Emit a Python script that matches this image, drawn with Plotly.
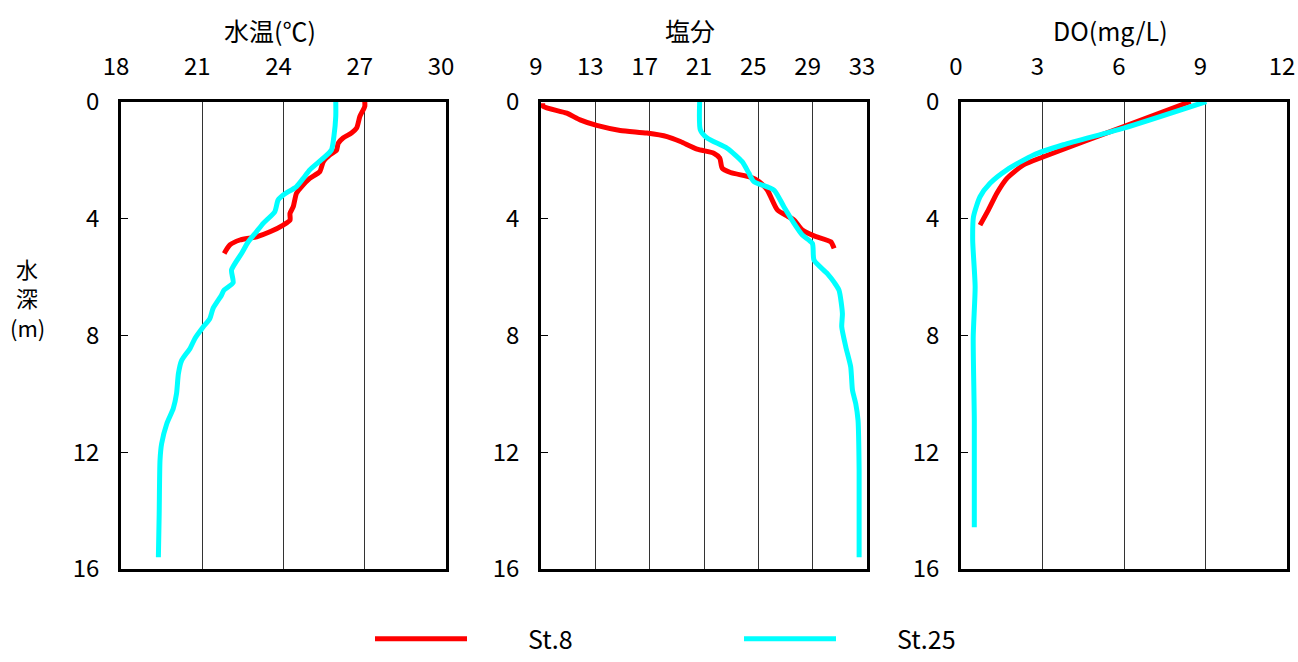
import plotly.graph_objects as go

# ---------------- data ----------------
# Water temperature (°C)
temp_depth_st8 = [0.0, 0.17, 0.51, 0.91, 1.08, 1.25, 1.43, 1.66, 1.83, 2.06, 2.4, 2.63, 2.91,
                  3.14, 3.6, 3.83, 4.06, 4.23, 4.46, 4.63, 4.74, 4.91, 5.2]
temp_st8 = [27.0, 27.0, 26.82, 26.7, 26.51, 26.2, 26.02, 25.96, 25.71, 25.47, 25.34, 24.97, 24.67,
            24.48, 24.36, 24.24, 24.24, 23.99, 23.5, 23.01, 22.39, 22.02, 21.81]
temp_depth_st25 = [0.0, 0.51, 1.2, 1.66, 1.94, 2.34, 2.63, 2.91, 3.2, 3.37, 3.77, 4.17, 4.46, 4.8,
                   5.2, 5.77, 6.2, 6.46, 6.63, 7.08, 7.43, 7.71, 8.11, 8.45, 8.86, 9.31, 10.0,
                   10.51, 11.03, 11.71, 12.28, 14.11, 15.6]
temp_st25 = [25.93, 25.93, 25.86, 25.77, 25.47, 24.97, 24.73, 24.48, 23.99, 23.8, 23.68, 23.25,
             23.0, 22.7, 22.45, 22.08, 22.14, 21.8, 21.71, 21.4, 21.28, 21.04, 20.73, 20.55,
             20.24, 20.12, 20.05, 19.93, 19.69, 19.5, 19.44, 19.41, 19.38]

# Salinity
sal_depth_st8 = [0.06, 0.17, 0.4, 0.63, 0.82, 0.99, 1.08, 1.2, 1.37, 1.63, 1.77, 1.94, 2.28, 2.43,
                 2.59, 2.74, 3.03, 3.71, 3.92, 4.06, 4.4, 4.6, 4.8, 5.03]
sal_st8 = [9.12, 9.17, 10.9, 11.88, 13.1, 14.83, 16.8, 18.28, 19.26, 20.49, 21.72, 22.16, 22.34,
           22.95, 24.43, 25.04, 25.66, 26.4, 27.14, 27.63, 28.24, 29.1, 30.33, 30.58]
sal_depth_st25 = [0.0, 0.97, 1.25, 1.6, 2.06, 2.45, 2.74, 3.03, 3.6, 4.17, 4.57, 4.86, 5.43, 5.89,
                  6.2, 6.46, 7.26, 7.71, 8.4, 9.08, 9.88, 10.34, 10.91, 12.63, 15.6]
sal_st25 = [20.68, 20.73, 21.23, 22.7, 23.81, 24.3, 24.67, 26.15, 26.88, 27.63, 28.24, 28.98,
            29.1, 30.08, 30.6, 30.94, 31.19, 31.14, 31.44, 31.8, 31.93, 32.17, 32.34, 32.42, 32.42]

# Dissolved oxygen (mg/L)
do_depth_st8 = [0.0, 0.86, 1.89, 2.17, 2.63, 3.14, 3.71, 4.23]
do_st8 = [8.45, 5.99, 3.04, 2.3, 1.69, 1.32, 1.01, 0.70]
do_depth_st25 = [0.0, 0.91, 1.48, 1.83, 2.34, 2.8, 3.26, 3.94, 4.74, 6.34, 8.06, 10.9, 14.57]
do_st25 = [9.03, 5.99, 3.77, 2.67, 1.69, 1.07, 0.70, 0.46, 0.43, 0.52, 0.45, 0.49, 0.49]

panel_titles = ["水温(℃)", "塩分", "DO(mg/L)"]
x_ranges = [[18, 30], [9, 33], [0, 12]]
x_dticks = [3, 4, 3]
depth_ticks = [0, 4, 8, 12, 16]
series_names = ["St.8", "St.25"]
series_colors = ["#FF0000", "#00FFFF"]
ylabel_lines = ["水", "深", "(m)"]

# ---------------- figure ----------------
W, H = 1298, 662
FONT = "Noto Sans CJK JP"
fig = go.Figure()

panels = [
    (temp_depth_st8, temp_st8, temp_depth_st25, temp_st25),
    (sal_depth_st8, sal_st8, sal_depth_st25, sal_st25),
    (do_depth_st8, do_st8, do_depth_st25, do_st25),
]

PAD = "\u00a0" * 10
for i, (d8, v8, d25, v25) in enumerate(panels):
    xa = "x" if i == 0 else f"x{i+1}"
    ya = "y" if i == 0 else f"y{i+1}"
    for j, (d, v) in enumerate([(d8, v8), (d25, v25)]):
        fig.add_trace(go.Scatter(
            x=v, y=d, mode="lines", xaxis=xa, yaxis=ya,
            name=PAD + series_names[j], legendgroup=series_names[j], showlegend=(i == 0),
            line=dict(color=series_colors[j], width=5, shape="spline", smoothing=0.6),
        ))

# panel pixel geometry
x_px = [(121, 446), (541, 867), (961, 1287)]
top_px, bot_px = 101.5, 569
ydom = [1 - bot_px / H, 1 - top_px / H]

layout = dict(
    width=W, height=H,
    margin=dict(l=0, r=0, t=0, b=0, autoexpand=False),
    paper_bgcolor="white", plot_bgcolor="white",
    font=dict(family=FONT, size=22, color="black"),
    showlegend=True,
    legend=dict(orientation="h", x=370 / W, xanchor="left", y=0, yanchor="bottom",
                font=dict(size=25, family=FONT), entrywidth=262, entrywidthmode="pixels",
                itemwidth=92, bgcolor="rgba(0,0,0,0)", tracegroupgap=0),
)

annotations = []
for i in range(3):
    xk = "xaxis" if i == 0 else f"xaxis{i+1}"
    yk = "yaxis" if i == 0 else f"yaxis{i+1}"
    ya = "y" if i == 0 else f"y{i+1}"
    xa = "x" if i == 0 else f"x{i+1}"
    x0, x1 = x_px[i]
    layout[xk] = dict(
        domain=[x0 / W, x1 / W], anchor=ya, side="top",
        range=x_ranges[i], dtick=x_dticks[i], tick0=x_ranges[i][0],
        showgrid=True, gridcolor="#333333", gridwidth=1,
        showline=True, linecolor="black", linewidth=2.5, mirror=True,
        ticks="", zeroline=False, ticklabelstandoff=14, ticklabelshift=-5, automargin=False,
        ticklabeloverflow="allow", tickfont=dict(size=24, family=FONT),
    )
    layout[yk] = dict(
        domain=ydom, anchor=xa, range=[16, 0],
        tickvals=depth_ticks, ticktext=[str(t) for t in depth_ticks],
        showgrid=False, showline=True, linecolor="black", linewidth=2.5, mirror=True,
        ticks="inside", ticklen=7, tickcolor="black", tickwidth=1.2, zeroline=False,
        ticklabelstandoff=14, automargin=False, ticklabeloverflow="allow",
        tickfont=dict(size=24, family=FONT),
    )
    cx = (x0 + x1) / 2 - 14
    annotations.append(dict(text=panel_titles[i], x=cx / W, y=1 - 30 / H, xref="paper", yref="paper",
                            xanchor="center", yanchor="middle", showarrow=False,
                            font=dict(size=25, family=FONT)))

for k, (txt, ypx) in enumerate(zip(ylabel_lines, [268, 297, 327])):
    annotations.append(dict(text=txt, x=27 / W, y=1 - ypx / H, xref="paper", yref="paper",
                            xanchor="center", yanchor="middle", showarrow=False,
                            font=dict(size=22, family=FONT)))
layout["annotations"] = annotations
fig.update_layout(**layout)

fig.write_html("out.html", config={"displayModeBar": False},
               post_script="document.body.style.margin='0';document.body.style.overflow='hidden';")
